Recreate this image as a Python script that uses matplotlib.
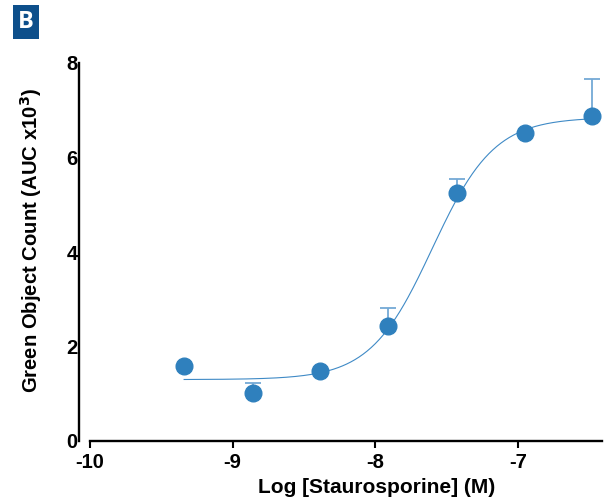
import numpy as np
import matplotlib
matplotlib.use("Agg")
import matplotlib.pyplot as plt

# Data
log_conc = [-9.34, -8.86, -8.39, -7.91, -7.43, -6.95, -6.48]
green_count = [1.59, 1.02, 1.49, 2.44, 5.24, 6.52, 6.88]
err_upper = [0.0, 0.20, 0.0, 0.37, 0.30, 0.0, 0.78]

# Four-parameter logistic fit parameters
fit_bottom = 1.30
fit_top = 6.85
fit_logec50 = -7.60
fit_hill = 2.0

x_ticks = [-10, -9, -8, -7]
y_ticks = [0, 2, 4, 6, 8]

plt.rcParams['font.family'] = ['Liberation Sans', 'DejaVu Sans']

fig = plt.figure(figsize=(6.1, 5.0), dpi=100)
ax = fig.add_axes([90/610, 59/500, 512/610, 378/500])

marker_c = '#2f80bd'
err_c = '#74a9d6'
curve_c = '#3f8ac6'

xf = np.linspace(min(log_conc), max(log_conc), 400)
yf = fit_bottom + (fit_top - fit_bottom) / (1 + 10 ** ((fit_logec50 - xf) * fit_hill))
ax.plot(xf, yf, color=curve_c, lw=0.8, zorder=2)

ax.errorbar(log_conc, green_count, yerr=[np.zeros(len(err_upper)), err_upper],
            fmt='none', ecolor=err_c, elinewidth=1.3, capsize=6, capthick=1.3, zorder=3)
ax.plot(log_conc, green_count, 'o', color=marker_c, ms=12, mec=marker_c, zorder=4, clip_on=False)

ax.set_xlim(-10, -6.41)
ax.set_ylim(0, 8)
ax.set_xticks(x_ticks)
ax.set_yticks(y_ticks)
ax.set_xticklabels([str(t) for t in x_ticks])
ax.set_yticklabels([str(t) for t in y_ticks])

for s in ['top', 'right']:
    ax.spines[s].set_visible(False)
ax.spines['left'].set_position(('outward', 8))
ax.spines['left'].set_linewidth(1.7)
ax.spines['bottom'].set_linewidth(1.7)
ax.spines['left'].set_bounds(0, 8)
ax.spines['bottom'].set_bounds(-10, -6.41)

ax.tick_params(axis='x', direction='out', length=5, width=1.5, pad=4, labelsize=14.5)
ax.tick_params(axis='y', length=0, pad=1, labelsize=14.5)
for lab in ax.get_xticklabels() + ax.get_yticklabels():
    lab.set_fontweight('bold')

ax.set_xlabel('Log [Staurosporine] (M)', fontsize=15, fontweight='bold')
ax.xaxis.set_label_coords((377 - 90) / 512, -(478 - 441) / 378)
ax.set_ylabel('Green Object Count (AUC x10$^{\\mathbf{3}}$)', fontsize=14.6, fontweight='bold')
ax.yaxis.set_label_coords(-(90 - 44) / 512, (441 - 240) / 378)

fig.text(26/610, 1 - 22/500, 'B', color='white', fontsize=17, fontweight='bold',
         ha='center', va='center', family=['Open Sans', 'DejaVu Sans'],
         bbox=dict(boxstyle='square,pad=0.2', fc='#0d4f8b', ec='none'))

fig.savefig('out.png', dpi=100)
